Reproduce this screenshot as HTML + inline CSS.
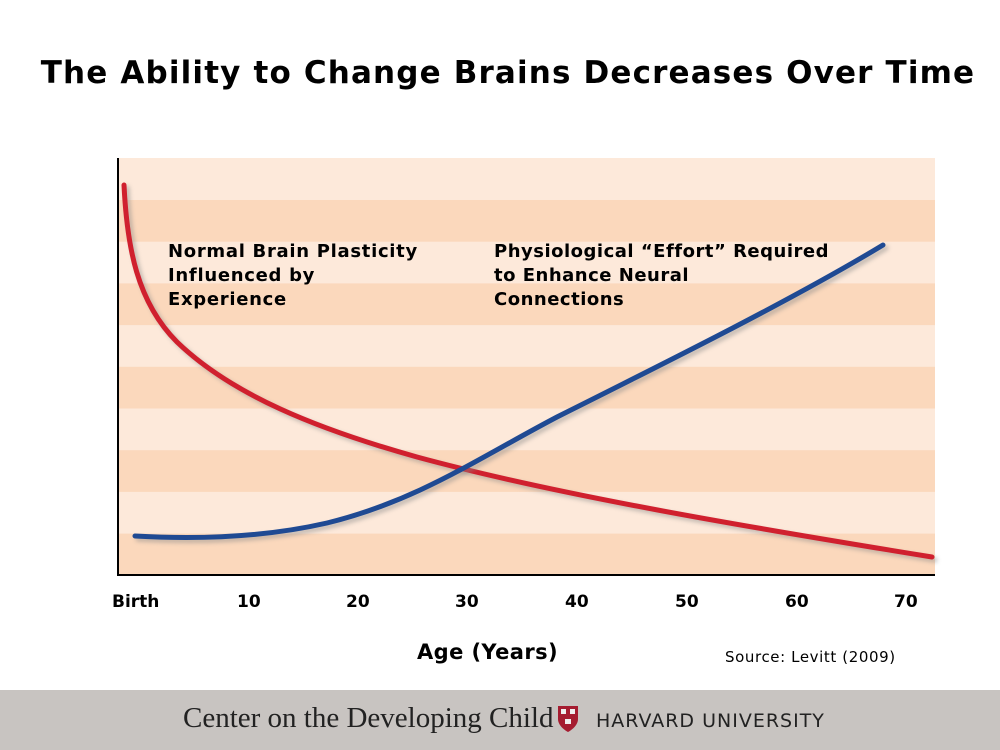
<!DOCTYPE html>
<html><head><style>
body{margin:0;width:1000px;height:750px;background:#fff;position:relative;overflow:hidden;font-family:"DejaVu Sans",Verdana,sans-serif}
.t{position:absolute;white-space:nowrap;color:#000}
</style></head><body>
<div class="t" style="left:8px;width:1000px;text-align:center;top:55px;font-size:31px;font-weight:bold;letter-spacing:1.15px">The Ability to Change Brains Decreases Over Time</div>
<svg width="1000" height="750" style="position:absolute;left:0;top:0">
<defs><filter id="s" x="-5%" y="-5%" width="110%" height="110%"><feGaussianBlur stdDeviation="2"/></filter></defs>
<g>
<rect x="118" y="158" width="817" height="417" fill="#fde9da"/>
<rect x="118" y="200" width="817" height="41.7" fill="#fbd8bc"/>
<rect x="118" y="283.4" width="817" height="41.7" fill="#fbd8bc"/>
<rect x="118" y="366.8" width="817" height="41.7" fill="#fbd8bc"/>
<rect x="118" y="450.2" width="817" height="41.7" fill="#fbd8bc"/>
<rect x="118" y="533.6" width="817" height="41.4" fill="#fbd8bc"/>
</g>
<line x1="118" y1="158" x2="118" y2="576" stroke="#000" stroke-width="2"/>
<line x1="117" y1="575" x2="935" y2="575" stroke="#000" stroke-width="2"/>
<g fill="none" stroke-width="5" stroke-linecap="round">
<path d="M127,188 C130,250 140,305 180,345 C235,398 320,432 420,460 C560,498 750,530 935,560" stroke="#888" opacity=".5" filter="url(#s)"/>
<path d="M124,185 C127,247 137,302 177,342 C232,395 317,429 417,457 C557,495 747,527 932,557" stroke="#d0202e"/>
<path d="M138,539 C190,542 260,542 330,526 C420,504 480,462 560,420 C680,360 800,300 886,248" stroke="#888" opacity=".5" filter="url(#s)"/>
<path d="M135,536 C187,539 257,539 327,523 C417,501 477,459 557,417 C677,357 797,297 883,245" stroke="#1f4a93"/>
</g>
</svg>
<div class="t" style="left:168px;top:240px;font-size:18px;font-weight:bold;line-height:24px;letter-spacing:0.7px">Normal Brain Plasticity<br>Influenced by<br>Experience</div>
<div class="t" style="left:494px;top:240px;font-size:18px;font-weight:bold;line-height:24px;letter-spacing:0.5px">Physiological “Effort” Required<br>to Enhance Neural<br>Connections</div>
<div style="position:absolute;top:592px;left:0;font-size:17px;font-weight:bold">
<span class="t" style="left:112px">Birth</span><span class="t" style="left:237px">10</span><span class="t" style="left:346px">20</span><span class="t" style="left:455px">30</span><span class="t" style="left:565px">40</span><span class="t" style="left:675px">50</span><span class="t" style="left:785px">60</span><span class="t" style="left:894px">70</span>
</div>
<div class="t" style="left:417px;top:640px;font-size:21px;font-weight:bold;letter-spacing:0.4px">Age (Years)</div>
<div class="t" style="left:725px;top:648px;font-size:15px;letter-spacing:0.6px">Source: Levitt (2009)</div>
<div style="position:absolute;left:0;top:690px;width:1000px;height:60px;background:#c8c4c1"></div>
<div class="t" style="left:183px;top:702px;font-family:'Liberation Serif',serif;font-size:29px;color:#222">Center on the Developing Child</div>
<svg style="position:absolute;left:557px;top:705px" width="22" height="28"><path d="M1,1 H21 V14 C21,22 11,27 11,27 C11,27 1,22 1,14 Z" fill="#a51c30"/><rect x="4" y="4" width="5" height="5" fill="#eee"/><rect x="13" y="4" width="5" height="5" fill="#eee"/><rect x="8" y="14" width="6" height="5" fill="#eee"/></svg>
<div class="t" style="left:596px;top:710px;font-size:19px;letter-spacing:1px;color:#222">HARVARD UNIVERSITY</div>
</body></html>
